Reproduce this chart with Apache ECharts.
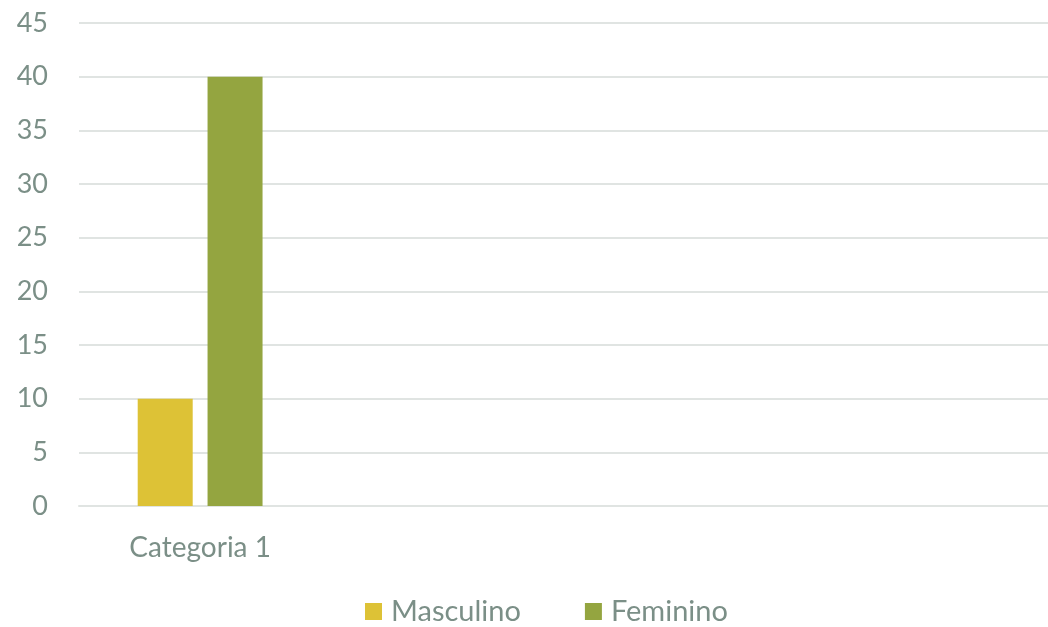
<!DOCTYPE html>
<html><head><meta charset="utf-8">
<script src="https://cdn.jsdelivr.net/npm/echarts@6/dist/echarts.min.js"></script>
<style>html,body{margin:0;padding:0;background:#fff}#c{width:1048px;height:627px}</style>
</head><body><div id="c"></div>
<script>
const categories = ["Categoria 1", "", "", ""];
const masculino = [10, null, null, null];
const feminino = [40, null, null, null];
const yTicks = { min: 0, max: 45, interval: 5 };
const textColor = '#7B8F87';
const font = 'Lato, "Open Sans", sans-serif';
const chart = echarts.init(document.getElementById('c'));
chart.setOption({
  animation: false,
  grid: { left: 79, right: 0, top: 23, bottom: 121, containLabel: false },
  legend: {
    top: 592, left: 360, itemWidth: 17, itemHeight: 17, itemGap: 64,
    icon: 'rect',
    textStyle: { color: textColor, fontSize: 29, fontFamily: font, padding: [0, 0, 0, 4] },
    data: ['Masculino', 'Feminino']
  },
  xAxis: {
    type: 'category', data: categories,
    axisLine: { show: true, lineStyle: { color: '#E0E4E2', width: 2 } },
    axisTick: { show: false },
    axisLabel: { color: textColor, fontSize: 28, fontFamily: font, margin: 28, interval: 0 }
  },
  yAxis: {
    type: 'value', min: yTicks.min, max: yTicks.max, interval: yTicks.interval,
    axisLine: { show: false }, axisTick: { show: false },
    axisLabel: { color: textColor, fontSize: 27, fontFamily: font, margin: 31 },
    splitLine: { lineStyle: { color: '#E0E4E2', width: 2 } }
  },
  series: [
    { name: 'Masculino', type: 'bar', data: masculino, barWidth: 55, barGap: '27%', itemStyle: { color: '#DDC236' } },
    { name: 'Feminino', type: 'bar', data: feminino, barWidth: 55, itemStyle: { color: '#94A540' } }
  ]
});
</script></body></html>
